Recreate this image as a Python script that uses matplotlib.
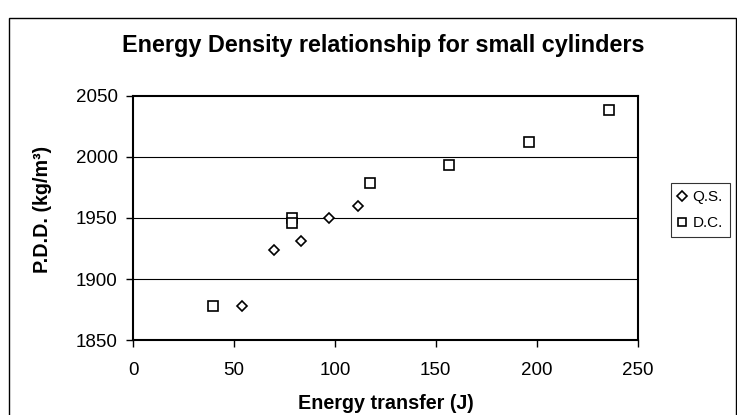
import matplotlib
matplotlib.use("Agg")
import matplotlib.pyplot as plt
from matplotlib.patches import Rectangle

plt.rcParams['font.family'] = ['Liberation Sans', 'DejaVu Sans']

# Quasi-static series
qs_energy = [53.9, 69.7, 83.2, 96.9, 111.3]
qs_density = [1878, 1923.5, 1931, 1950, 1960]

# Dynamic compaction series
dc_energy = [39.4, 78.8, 78.8, 117.6, 156.8, 196.0, 235.9]
dc_density = [1878, 1950, 1946, 1978.5, 1993.5, 2012.5, 2038.5]

x_ticks = [0, 50, 100, 150, 200, 250]
y_ticks = [1850, 1900, 1950, 2000, 2050]

fig = plt.figure(figsize=(7.37, 4.15), dpi=100)
ax = fig.add_axes([0.1805, 0.18, 0.865 - 0.1805, 0.7694 - 0.18])

for y in y_ticks[1:-1]:
    ax.axhline(y, color='black', lw=0.8, zorder=1)

ax.plot(qs_energy, qs_density, linestyle='none', marker='D', markersize=5.2,
        markerfacecolor='white', markeredgecolor='black', markeredgewidth=1.2,
        label='Q.S.', zorder=3)
ax.plot(dc_energy, dc_density, linestyle='none', marker='s', markersize=6.8,
        markerfacecolor='white', markeredgecolor='black', markeredgewidth=1.2,
        label='D.C.', zorder=3)

ax.set_xlim(0, 250)
ax.set_ylim(1850, 2050)
ax.set_xticks(x_ticks)
ax.set_yticks(y_ticks)
ax.tick_params(direction='out', length=5, width=1, labelsize=13.5, color='black')
ax.tick_params(axis='x', pad=10.5)
ax.tick_params(axis='y', pad=6)
for s in ax.spines.values():
    s.set_linewidth(1.5)
    s.set_color('black')

fig.text(0.5204, 0.8747, 'Energy Density relationship for small cylinders',
         ha='center', va='baseline', fontsize=16.8, fontweight='bold')
fig.text(0.5237, 0.0145, 'Energy transfer (J)', ha='center', va='baseline',
         fontsize=14.2, fontweight='bold')
fig.text(0.057, 0.496, 'P.D.D. (kg/m³)', ha='center', va='center',
         fontsize=14.2, fontweight='bold', rotation=90)

leg = fig.legend(loc='center left', bbox_to_anchor=(0.9105, 0.494),
                 fontsize=11, frameon=True, fancybox=False, handlelength=0.6,
                 handletextpad=0.35, borderpad=0.45, labelspacing=0.8,
                 borderaxespad=0, markerscale=0.9)
leg.get_frame().set_edgecolor('black')
leg.get_frame().set_linewidth(0.8)

# outer chart border
fig.add_artist(Rectangle((8.5 / 737, -0.05), (736 - 8.5) / 737, 1 - 18 / 415 + 0.05,
                         transform=fig.transFigure, fill=False,
                         edgecolor='black', lw=1))

fig.savefig('out.png', dpi=100)
